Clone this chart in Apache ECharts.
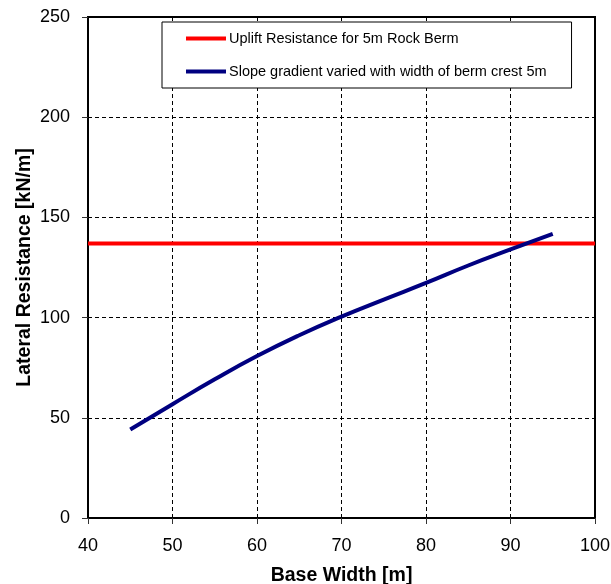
<!DOCTYPE html>
<html>
<head>
<meta charset="utf-8">
<style>
  html, body { margin: 0; padding: 0; background: #fff; }
  #chart { width: 611px; height: 584px; }
</style>
<script src="https://cdn.jsdelivr.net/npm/echarts@6/dist/echarts.min.js"></script>
</head>
<body>
<div id="chart"></div>
<script>
// base width [m] and lateral resistance [kN/m]
const baseWidth = [45, 50, 55, 60, 65, 70, 75, 80, 85, 90, 95];
const lateralResistance = [44.2, 56.8, 69.2, 80.8, 91.2, 100.5, 109, 117.3, 126, 134, 141.8];

// uplift resistance is a constant across the x range
const upliftX = [40, 100];
const upliftValue = 137;

const upliftName = 'Uplift Resistance for 5m Rock Berm';
const slopeName = 'Slope gradient varied with width of berm crest 5m';

const font = 'Liberation Sans, Arial, sans-serif';
const gridLine = { color: '#000', width: 1, type: [4, 3] };

const chart = echarts.init(document.getElementById('chart'));

chart.setOption({
  animation: false,
  textStyle: { fontFamily: font },
  grid: {
    left: 88, right: 16, top: 17, bottom: 66,
    outerBoundsMode: 'none',
    show: true, borderColor: '#000', borderWidth: 2
  },
  legend: {
    orient: 'vertical',
    left: 162,
    top: 22,
    padding: [9, 25, 9, 24],
    itemWidth: 40,
    itemHeight: 4,
    itemGap: 18,
    borderColor: '#000',
    borderWidth: 1,
    backgroundColor: '#fff',
    textStyle: { fontFamily: font, fontSize: 14.5, color: '#000', padding: [0, 0, 0, -2] },
    data: [
      { name: upliftName, icon: 'rect' },
      { name: slopeName, icon: 'rect' }
    ]
  },
  xAxis: {
    type: 'value',
    min: 40, max: 100, interval: 10,
    name: 'Base Width [m]',
    nameLocation: 'middle',
    nameGap: 48,
    nameMoveOverlap: false,
    nameTextStyle: { fontFamily: font, fontSize: 19.5, fontWeight: 'bold', color: '#000' },
    axisLine: { show: true, lineStyle: { color: '#000', width: 2 } },
    axisTick: { show: true, inside: false, length: 6, lineStyle: { color: '#333' } },
    axisLabel: { fontFamily: font, fontSize: 18, color: '#000', margin: 19 },
    splitLine: { show: true, lineStyle: gridLine }
  },
  yAxis: {
    type: 'value',
    min: 0, max: 250, interval: 50,
    name: 'Lateral Resistance [kN/m]',
    nameLocation: 'middle',
    nameGap: 53,
    nameMoveOverlap: false,
    nameTextStyle: { fontFamily: font, fontSize: 19.5, fontWeight: 'bold', color: '#000' },
    axisLine: { show: true, lineStyle: { color: '#000', width: 2 } },
    axisTick: { show: true, inside: false, length: 6, lineStyle: { color: '#333' } },
    axisLabel: { fontFamily: font, fontSize: 18, color: '#000', margin: 18 },
    splitLine: { show: true, lineStyle: gridLine }
  },
  series: [
    {
      name: upliftName,
      type: 'line',
      symbol: 'none',
      lineStyle: { color: '#ff0000', width: 4 },
      itemStyle: { color: '#ff0000' },
      data: upliftX.map((x) => [x, upliftValue]),
      z: 3
    },
    {
      name: slopeName,
      type: 'line',
      symbol: 'none',
      smooth: 0.5,
      lineStyle: { color: '#000080', width: 4 },
      itemStyle: { color: '#000080' },
      data: baseWidth.map((x, i) => [x, lateralResistance[i]]),
      z: 4
    }
  ]
});
</script>
</body>
</html>
